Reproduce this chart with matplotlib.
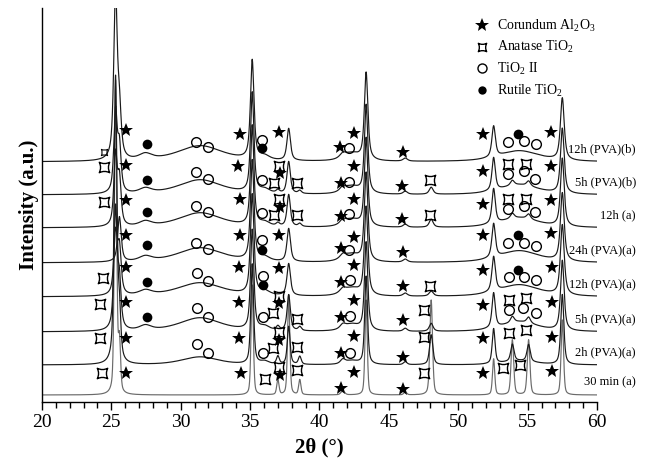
import numpy as np
import matplotlib
matplotlib.use('Agg')
import matplotlib.pyplot as plt
from matplotlib.path import Path
from matplotlib.lines import Line2D
from matplotlib.ticker import MultipleLocator

plt.rcParams['font.family'] = 'serif'
plt.rcParams['font.serif'] = ['Liberation Serif', 'DejaVu Serif']
plt.rcParams['mathtext.fontset'] = 'custom'
plt.rcParams['mathtext.rm'] = 'Liberation Serif'
plt.rcParams['mathtext.it'] = 'Liberation Serif:italic'

# samples, bottom to top
labels = ['30 min (a)', '2h (PVA)(a)', '5h (PVA)(a)', '12h (PVA)(a)',
          '24h (PVA)(a)', '12h (a)', '5h (PVA)(b)', '12h (PVA)(b)']
offsets = [7, 37, 70, 105, 139, 174, 207, 240]

# reflections (2theta) and half widths
peak_pos = [25.30, 25.58, 27.45, 31.40, 35.15, 36.05, 37.00, 37.78, 38.58, 41.68,
            42.30, 43.36, 46.18, 48.05, 52.55, 53.90, 54.40, 55.07, 57.50]
peak_hwhm = [0.12, 0.12, 0.45, 1.60, 0.12, 0.35, 0.12, 0.12, 0.12, 0.20,
             0.60, 0.12, 0.15, 0.14, 0.12, 0.14, 1.40, 0.14, 0.13]

# peak heights, one list per sample
h_30min = [313, 50, 0, 0, 110, 0, 15, 100, 15, 4, 0, 95, 3, 95, 36, 55, 0, 55, 75]
h_2h = [285, 45, 0, 8, 100, 3, 8, 38, 8, 4, 4, 88, 3, 30, 35, 17, 4, 17, 70]
h_5h = [120, 45, 5, 14, 100, 4, 4, 36, 4, 4, 7, 88, 3, 8, 35, 6, 10, 6, 70]
h_12h_pva_a = [60, 45, 5, 14, 100, 4, 0, 32, 0, 4, 8, 88, 3, 5, 35, 0, 12, 0, 70]
h_24h = [0, 45, 5, 15, 100, 4, 0, 33, 0, 4, 8, 88, 3, 0, 34, 0, 12, 0, 68]
h_12h_a = [70, 45, 5, 15, 100, 4, 3, 32, 3, 4, 8, 88, 3, 8, 35, 5, 10, 5, 68]
h_5h_b = [80, 45, 5, 15, 100, 4, 3, 32, 3, 4, 8, 88, 3, 7, 33, 5, 10, 5, 65]
h_12h_b = [165, 45, 6, 16, 99, 4, 0, 32, 0, 4, 8, 87, 3, 0, 31, 0, 11, 0, 62]
heights = [h_30min, h_2h, h_5h, h_12h_pva_a, h_24h, h_12h_a, h_5h_b, h_12h_b]
widen = [0.8, 1.0, 1.15, 1.25, 1.25, 1.2, 1.2, 1.25]
eta = [0.4, 0.6, 0.7, 0.7, 0.7, 0.7, 0.7, 0.7]

# phase markers (2theta, stacked intensity)
corundum_x = [26.05, 34.27, 37.08, 41.48, 42.49, 46.02, 51.78, 56.68,
              26.05, 34.13, 37.15, 41.55, 42.49, 45.95, 51.78, 56.68,
              26.05, 34.27, 37.15, 41.55, 42.49, 45.95, 51.78, 56.68,
              26.05, 34.27, 37.08, 41.55, 42.49, 46.02, 51.78, 56.68,
              26.05, 34.20, 37.08, 41.55, 42.49, 46.02, 51.78, 56.75,
              26.05, 34.20, 37.08, 41.55, 42.49, 46.02, 51.78, 56.75,
              26.05, 34.20, 37.08, 41.55, 42.49, 46.02, 51.78, 56.75,
              26.05, 34.34, 37.15, 41.55, 42.49, 46.02, 51.78, 56.75]
corundum_y = [272, 268, 270, 255, 269, 250, 268, 270,
              237, 236, 229, 219, 236, 216, 231, 236,
              202, 203, 195, 186, 203, 183, 198, 202,
              167, 167, 167, 154, 165, 150, 167, 169,
              135, 135, 134, 120, 137, 116, 132, 135,
              100, 100, 99, 85, 102, 82, 97, 100,
              64, 64, 62, 49, 66, 45, 64, 65,
              29, 29, 27, 14, 30, 13, 29, 31]
anatase_x = [24.47, 36.70, 37.08, 38.38, 47.96, 53.60, 54.88,
             24.47, 36.70, 37.08, 38.38, 47.96, 53.60, 54.88,
             24.40, 47.96,
             24.20, 36.65, 37.08, 38.38, 47.55, 53.66, 54.88,
             24.20, 36.65, 37.08, 38.38, 47.55, 53.66, 54.88,
             24.30, 36.07, 37.08, 38.38, 47.55, 53.22, 54.45]
anatase_y = [235, 219, 236, 219, 222, 238, 238,
             200, 187, 203, 187, 187, 203, 203,
             124, 116,
             98, 89, 106, 83, 92, 102, 104,
             64, 54, 70, 55, 65, 69, 72,
             29, 23, 35, 32, 29, 34, 37]
anatase_small_x = [24.47]
anatase_small_y = [250]
tio2ii_x = [31.10, 31.96, 35.86, 42.13, 53.60, 54.74, 55.60,
            31.10, 31.96, 35.86, 42.13, 53.60, 54.74, 55.53,
            31.10, 31.96, 35.86, 42.13, 53.60, 54.74, 55.53,
            31.10, 31.96, 35.86, 42.13, 53.60, 54.74, 55.60,
            31.17, 31.96, 35.93, 42.20, 53.66, 54.74, 55.60,
            31.17, 31.96, 35.93, 42.20, 53.66, 54.67, 55.60,
            31.17, 31.96, 35.93, 42.20]
tio2ii_y = [260, 255, 262, 254, 260, 261, 258,
            230, 223, 222, 220, 228, 231, 223,
            196, 190, 189, 188, 193, 196, 190,
            159, 153, 162, 152, 159, 159, 156,
            129, 121, 126, 122, 125, 125, 122,
            94, 85, 85, 86, 92, 94, 89,
            58, 49, 49, 49]
rutile_x = [27.60, 35.86, 54.30, 27.60, 27.60, 27.60, 35.86, 54.30,
            27.60, 35.93, 54.30, 27.60]
rutile_y = [258, 254, 268, 222, 190, 157, 152, 167, 120, 117, 132, 85]

# concave square used for anatase
anatase_marker = Path(
    [(-1, 1), (0, 0.5), (1, 1), (0.5, 0), (1, -1), (0, -0.5), (-1, -1), (-0.5, 0), (-1, 1), (-1, 1)],
    [Path.MOVETO, Path.CURVE3, Path.CURVE3, Path.CURVE3, Path.CURVE3,
     Path.CURVE3, Path.CURVE3, Path.CURVE3, Path.CURVE3, Path.CLOSEPOLY])

two_theta = np.linspace(20, 60, 4001)


def pattern(h, k, e):
    y = np.zeros_like(two_theta)
    for p, w, a in zip(peak_pos, peak_hwhm, h):
        if a == 0:
            continue
        d = (two_theta - p) / (w * k)
        y += a * (e / (1 + d ** 2) + (1 - e) * np.exp(-np.log(2) * d ** 2))
    return y


fig = plt.figure(figsize=(6.48, 4.58), dpi=100)
ax = fig.add_axes([0.0648, 0.1223, 0.8565, 0.8602])

for i in range(len(labels)):
    col = '#6a6a6a' if i == 0 else '#1a1a1a'
    ax.plot(two_theta, offsets[i] + pattern(heights[i], widen[i], eta[i]), color=col, lw=0.85)
    ax.text(62.8, offsets[i] + 13, labels[i], ha='right', va='center', fontsize=9, clip_on=False)

ax.plot(corundum_x, corundum_y, ls='none', marker='*', ms=10.5, color='black', mew=0)
ax.plot(anatase_x, anatase_y, ls='none', marker=anatase_marker, ms=7.5, mfc='none', mec='black', mew=1)
ax.plot(anatase_small_x, anatase_small_y, ls='none', marker=anatase_marker, ms=4.5, mfc='none', mec='black', mew=0.8)
ax.plot(tio2ii_x, tio2ii_y, ls='none', marker='o', ms=7, mfc='none', mec='black', mew=1)
ax.plot(rutile_x, rutile_y, ls='none', marker='o', ms=7, color='black', mew=0)

handles = [
    Line2D([], [], ls='none', marker='*', ms=10, color='black', mew=0),
    Line2D([], [], ls='none', marker=anatase_marker, ms=6, mfc='none', mec='black', mew=1),
    Line2D([], [], ls='none', marker='o', ms=6.5, mfc='none', mec='black', mew=1),
    Line2D([], [], ls='none', marker='o', ms=6, color='black', mew=0),
]
names = ['Corundum Al$_2$O$_3$', 'Anatase TiO$_2$', 'TiO$_2$ II', 'Rutile TiO$_2$']
ax.legend(handles, names, loc='upper left', bbox_to_anchor=(0.765, 1.0), frameon=False,
          fontsize=10, handlelength=0.8, handletextpad=0.7, labelspacing=0.4, borderpad=0.2)

ax.set_xlim(20, 60)
ax.set_ylim(0, 394)
ax.set_yticks([])
ax.xaxis.set_major_locator(MultipleLocator(5))
ax.xaxis.set_minor_locator(MultipleLocator(1))
ax.tick_params(axis='x', which='major', direction='out', length=6, width=1, labelsize=14, pad=3)
ax.tick_params(axis='x', which='minor', direction='out', length=4, width=1)
ax.spines['top'].set_visible(False)
ax.spines['right'].set_visible(False)
ax.spines['left'].set_linewidth(1)
ax.spines['bottom'].set_linewidth(1)
ax.set_xlabel('2θ (°)', fontsize=15, fontweight='bold', labelpad=4)
ax.set_ylabel('Intensity (a.u.)', fontsize=15, fontweight='bold', labelpad=2)

fig.savefig('out.png', dpi=100)
